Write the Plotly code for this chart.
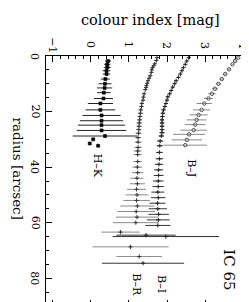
import plotly.graph_objects as go

# ---------------- data ----------------
# H-K : filled squares
hk_r = [1.8, 3.0, 4.1, 5.3, 6.5, 8.3, 10.0, 11.5, 13.2, 15.3, 17.1, 19.4, 21.4, 23.3, 24.9, 26.8, 28.8, 30.0, 31.5, 32.3]
hk_c = [0.45, 0.43, 0.43, 0.41, 0.41, 0.38, 0.37, 0.36, 0.34, 0.33, 0.25, 0.25, 0.28, 0.28, 0.28, 0.28, 0.37, 0.06, -0.03, 0.19]
hk_e = [0.08, 0.08, 0.09, 0.10, 0.10, 0.12, 0.17, 0.20, 0.18, 0.25, 0.33, 0.39, 0.50, 0.57, 0.62, 0.65, 0.85, 0.0, 0.0, 0.0]

# B-R : crosses
br_r = [0.6, 1.6, 2.8, 3.5, 4.2, 5.0, 5.9, 7.1, 8.0, 8.9, 9.8, 10.6, 11.3, 12.1, 13.6, 14.8, 15.9, 17.1, 18.2, 19.4,
        20.6, 21.8, 23.0, 24.1, 25.3, 26.5, 27.8, 29.4, 31.0, 32.9, 34.2, 35.5, 38, 40, 42, 44, 46, 48, 50, 52, 54,
        56, 58, 60, 63.4, 68.7, 72.2]
br_c = [1.74, 1.72, 1.68, 1.65, 1.62, 1.60, 1.59, 1.56, 1.53, 1.50, 1.48, 1.46, 1.45, 1.43, 1.40, 1.38, 1.37, 1.34, 1.33, 1.31,
        1.30, 1.29, 1.28, 1.27, 1.265, 1.26, 1.25, 1.24, 1.24, 1.24, 1.23, 1.23, 1.23, 1.22, 1.23, 1.21, 1.22, 1.20, 1.21, 1.20, 1.22,
        1.19, 1.21, 1.18, 0.78, 1.04, 1.27]
br_e = [0.02, 0.02, 0.02, 0.02, 0.02, 0.02, 0.03, 0.03, 0.03, 0.03, 0.03, 0.03, 0.04, 0.04, 0.04, 0.04, 0.05, 0.05, 0.05, 0.05,
        0.06, 0.06, 0.06, 0.07, 0.07, 0.07, 0.08, 0.08, 0.09, 0.10, 0.10, 0.11, 0.12, 0.13, 0.15, 0.17, 0.20, 0.25, 0.30, 0.35, 0.45,
        0.50, 0.55, 0.60, 0.50, 1.00, 0.60]

# B-I : crosses
bi_r = [0.6, 1.8, 3.0, 4.2, 5.3, 6.5, 7.7, 8.9, 10.0, 11.2, 12.4, 13.6, 14.7, 15.9, 17.1, 18.2, 19.4, 20.6, 21.8, 23.0,
        24.1, 25.3, 26.5, 27.6, 28.8, 30.6, 32.3, 34.7, 37, 39, 41, 43, 45, 47, 49, 51, 53, 55, 57, 59, 61,
        64.5, 65.0, 74.6]
bi_c = [2.57, 2.52, 2.48, 2.43, 2.39, 2.35, 2.30, 2.24, 2.20, 2.15, 2.11, 2.07, 2.02, 2.00, 1.97, 1.94, 1.91, 1.89, 1.88, 1.87,
        1.87, 1.87, 1.87, 1.87, 1.85, 1.82, 1.81, 1.80, 1.80, 1.79, 1.78, 1.78, 1.77, 1.77, 1.76, 1.77, 1.75, 1.76, 1.78, 1.77, 1.76,
        1.45, 1.97, 1.37]
bi_e = [0.02, 0.02, 0.02, 0.02, 0.02, 0.02, 0.03, 0.03, 0.03, 0.03, 0.03, 0.03, 0.04, 0.04, 0.04, 0.04, 0.05, 0.05, 0.05, 0.05,
        0.06, 0.06, 0.06, 0.07, 0.07, 0.08, 0.08, 0.09, 0.10, 0.11, 0.12, 0.13, 0.14, 0.15, 0.17, 0.19, 0.21, 0.24, 0.27, 0.30, 0.33,
        0.78, 1.40, 1.08]

# B-J : open circles
bj_r = [0.6, 1.8, 3.0, 4.8, 6.5, 8.3, 10.0, 11.8, 13.6, 15.3, 17.1, 19.4, 21.2, 23.0, 24.7, 26.7, 28.2, 30.2, 32.1]
bj_c = [3.87, 3.79, 3.72, 3.63, 3.53, 3.44, 3.35, 3.26, 3.18, 3.09, 2.98, 2.91, 2.83, 2.78, 2.74, 2.70, 2.58, 2.52, 2.48]
bj_e = [0.02, 0.03, 0.03, 0.04, 0.05, 0.06, 0.07, 0.08, 0.10, 0.12, 0.20, 0.22, 0.24, 0.26, 0.27, 0.35, 0.42, 0.40, 0.57]

x_ticks = [-1, 0, 1, 2, 3, 4]
x_tick_text = ["−1", "0", "1", "2", "3", "4"]
y_ticks = [0, 20, 40, 60, 80]
y_tick_text = ["0", "20", "40", "60", "80"]

SERIF = "DejaVu Serif, Liberation Serif, serif"

fig = go.Figure()

def add(r, c, e, sym, size, mcol, ecol, fill, lw):
    fig.add_trace(go.Scatter(
        x=c, y=r, mode="markers",
        marker=dict(symbol=sym, size=size, color=fill, line=dict(color=mcol, width=lw)),
        error_x=dict(type="data", array=e, visible=True, color=ecol, thickness=1, width=0),
        showlegend=False, hoverinfo="skip", cliponaxis=True))

add(hk_r, hk_c, hk_e, "square", 3, "black", "#222222", "black", 0.6)
add(br_r, br_c, br_e, "cross-thin", 3, "#333333", "#8a8a8a", "#333333", 1)
add(bi_r, bi_c, bi_e, "cross-thin", 3, "#222222", "#333333", "#222222", 1)
add(bj_r, bj_c, bj_e, "circle-open", 3.5, "#555555", "#8a8a8a", "#555555", 1)

def ann(**kw):
    kw.setdefault("showarrow", False)
    kw.setdefault("xanchor", "center")
    kw.setdefault("yanchor", "middle")
    fig.add_annotation(**kw)

labels = [("H–K", 0.16, 39.5, 11), ("B–J", 2.64, 40.5, 11), ("B–I", 1.86, 82.0, 11),
          ("B–R", 1.20, 82.4, 11), ("IC 65", 3.62, 77.0, 15)]
for t, cx, ry, fs in labels:
    ann(x=cx, y=ry, text=t, textangle=90, font=dict(family=SERIF, size=fs, color="black"))

# rotated tick labels (the whole figure is turned by 90 degrees)
for v, t in zip(x_ticks, x_tick_text):
    ann(x=v, xref="x", y=1.0, yref="paper", yshift=11, text=t,
        textangle=90, font=dict(family=SERIF, size=11, color="black"))
for v, t in zip(y_ticks, y_tick_text):
    ann(x=0.0, xref="paper", y=v, yref="y", xshift=-11, text=t,
        textangle=90, font=dict(family=SERIF, size=11, color="black"))

ann(xref="paper", yref="paper", x=0.505, y=1.0, yshift=36,
    text="colour index [mag]", font=dict(family=SERIF, size=14.5, color="black"))
ann(xref="paper", yref="paper", x=0.0, y=0.55, xshift=-28,
    text="radius [arcsec]", textangle=90, font=dict(family=SERIF, size=13.5, color="black"))

fig.update_layout(
    width=249, height=302,
    margin=dict(l=38, r=4, t=48, b=4),
    paper_bgcolor="white", plot_bgcolor="white",
    font=dict(family=SERIF, size=11, color="black"),
    xaxis=dict(side="top", range=[-1.18, 4.26], tickvals=x_ticks, showticklabels=False,
               ticks="inside", ticklen=6, tickcolor="black", tickwidth=1,
               minor=dict(dtick=0.2, ticks="inside", ticklen=3, tickcolor="black"),
               showline=True, linecolor="black", linewidth=1, mirror="allticks",
               showgrid=False, zeroline=False),
    yaxis=dict(range=[90, 0], tickvals=y_ticks, showticklabels=False,
               ticks="inside", ticklen=6, tickcolor="black", tickwidth=1,
               minor=dict(dtick=5, ticks="inside", ticklen=3, tickcolor="black"),
               showline=True, linecolor="black", linewidth=1, mirror="allticks",
               showgrid=False, zeroline=False),
)

fig.write_html("out.html")
